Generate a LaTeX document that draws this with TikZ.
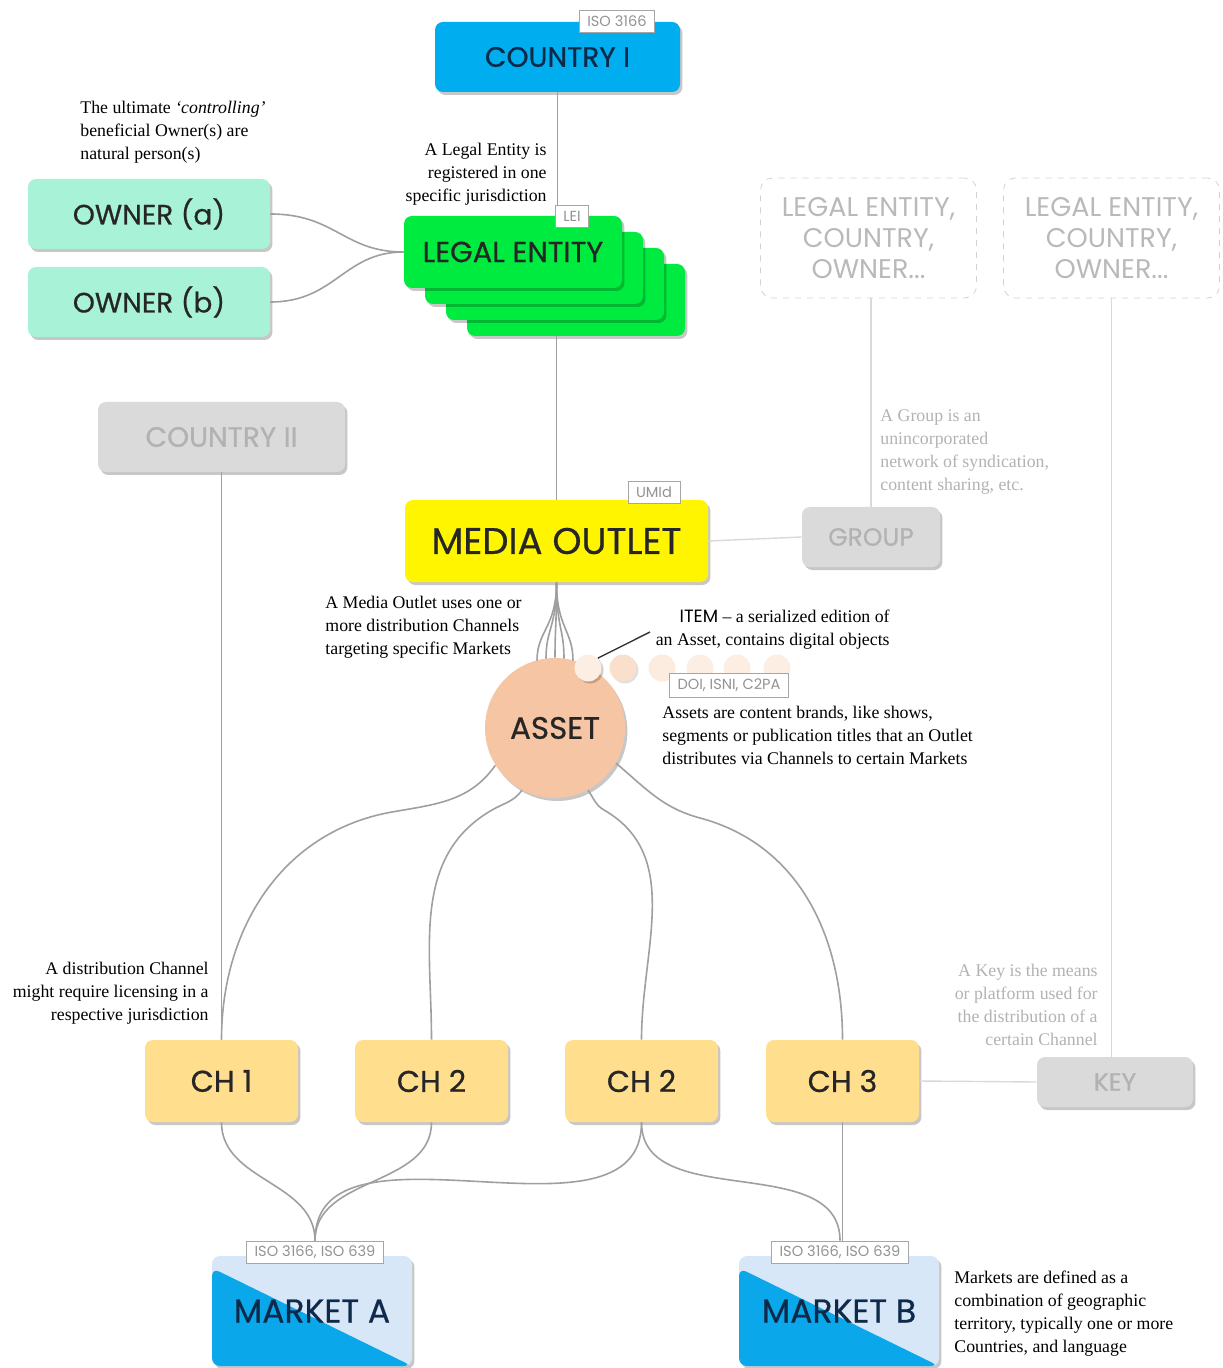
\documentclass[tikz,border=0pt]{standalone}
\usepackage{fontspec}
\setmainfont{Liberation Serif}
\newfontfamily\boxfont{Poppins}[FakeBold=0.6]
\newfontfamily\tagfont{Poppins}
\usetikzlibrary{positioning,calc,shadows}
\definecolor{ctryblue}{HTML}{00ADEF}
\definecolor{navy}{HTML}{0E2A4A}
\definecolor{mint}{HTML}{A8F3D8}
\definecolor{legalgreen}{HTML}{00EB40}
\definecolor{outletyellow}{HTML}{FFF500}
\definecolor{peach}{HTML}{F6C5A3}
\definecolor{chanyellow}{HTML}{FFDF8E}
\definecolor{boxgray}{HTML}{DADADA}
\definecolor{mktlight}{HTML}{D8E7F7}
\definecolor{mktblue}{HTML}{0AA8EA}

\begin{document}
\begin{tikzpicture}[x=0.5pt,y=0.5pt,
  box/.style={rounded corners=4pt,inner sep=0pt,align=center,text=black!85,
    font={\boxfont\fontsize{14}{16}\selectfont},
    drop shadow={shadow xshift=1.2pt,shadow yshift=-1.5pt,fill=black,opacity=.22}},
  ghost/.style={box,fill=boxgray,text=gray!60},
  dashbox/.style={rounded corners=6pt,draw=gray!35,dashed,text=gray!55,align=center,
    minimum width=108pt,minimum height=60pt,font={\tagfont\fontsize{13.5}{15.5}\selectfont}},
  chan/.style={box,fill=chanyellow,minimum width=76.5pt,minimum height=41pt,
    font={\boxfont\fontsize{15}{18}\selectfont}},
  market/.style={box,fill=mktlight,text=navy,minimum width=100pt,minimum height=55pt,
    font={\boxfont\fontsize{16.5}{18}\selectfont},
    path picture={\fill[mktblue] ([yshift=-6pt]path picture bounding box.north west)
      -- (path picture bounding box.south east) -- (path picture bounding box.south west) -- cycle;}},
  tag/.style={draw=gray!70,fill=white,text=gray!85,inner xsep=4pt,inner ysep=0pt,
    minimum height=11pt,font={\tagfont\fontsize{7.3}{8}\selectfont}},
  itemdot/.style={circle,inner sep=0pt,minimum size=13.5pt},
  note/.style={inner sep=0pt,font=\fontsize{8.9}{11.5}\selectfont},
  faded/.style={note,text=gray!60},
  link/.style={draw=gray!75,line width=.8pt},
  faint/.style={draw=gray!30,line width=.7pt}]
  \useasboundingbox (0,0) rectangle (1222,-1368);

  % top: country, owners, legal entity
  \node[box,fill=ctryblue,text=navy,minimum width=122.5pt,minimum height=35pt] (country) at (557.5,-57) {COUNTRY I};
  \node[box,fill=mint,minimum width=121pt,minimum height=35pt] (owna) at (149,-214) {OWNER (a)};
  \node[box,fill=mint,minimum width=121pt,minimum height=35pt] (ownb) at (149,-302) {OWNER (b)};
  \node[box,fill=legalgreen,minimum width=109pt,minimum height=36pt] (legal3) at (576,-300) {};
  \node[box,fill=legalgreen,minimum width=109pt,minimum height=36pt] (legal2) at (555,-284) {};
  \node[box,fill=legalgreen,minimum width=109pt,minimum height=36pt] (legal1) at (534,-268) {};
  \node[box,fill=legalgreen,minimum width=109pt,minimum height=36pt,
    font={\boxfont\fontsize{14.5}{16}\selectfont}] (legal) at (513,-252) {LEGAL ENTITY};
  \node[note,anchor=north west,align=left] (ownnote) at (80,-101)
    {The ultimate \textit{‘controlling’}\\beneficial Owner(s) are\\natural person(s)};
  \node[note,anchor=north east,align=right] (legalnote) at (547,-143)
    {A Legal Entity is\\registered in one\\specific jurisdiction};
  \draw[link] (country.south) -- (country.south |- legal.north);
  \draw[link] (owna.east) .. controls +(65,0) and +(-60,0) .. (legal.west);
  \draw[link] (ownb.east) .. controls +(65,0) and +(-60,0) .. (legal.west);
  \node[tag] (isoc) at (617,-21) {ISO 3166};
  \node[tag] (lei) at (572,-216) {LEI};

  % greyed out context
  \node[dashbox] (other1) at (868.5,-238) {LEGAL ENTITY,\\COUNTRY,\\OWNER...};
  \node[dashbox] (other2) at (1111.5,-238) {LEGAL ENTITY,\\COUNTRY,\\OWNER...};
  \node[ghost,minimum width=123.5pt,minimum height=35pt] (country2) at (221.5,-437) {COUNTRY II};
  \node[ghost,minimum width=69pt,minimum height=30pt,font={\boxfont\fontsize{12.5}{15}\selectfont}] (group) at (871,-537) {GROUP};
  \node[ghost,minimum width=78pt,minimum height=25pt,font={\boxfont\fontsize{12.5}{15}\selectfont}] (key) at (1115,-1082) {KEY};
  \node[faded,anchor=north west,align=left] (groupnote) at (880,-409)
    {A Group is an\\unincorporated\\network of syndication,\\content sharing, etc.};
  \node[faded,anchor=north east,align=right] (keynote) at (1098,-964)
    {A Key is the means\\or platform used for\\the distribution of a\\certain Channel};
  \draw[faint] (other1.south -| group.north) -- (group.north);
  \draw[faint] (other2.south) -- (other2.south |- key.north);

  % media outlet and asset
  \node[box,fill=outletyellow,minimum width=151.5pt,minimum height=41pt,
    font={\boxfont\fontsize{18.5}{20}\selectfont}] (media) at (556.5,-541) {MEDIA OUTLET};
  \node[tag] (umid) at (654,-492) {UMId};
  \draw[link] (legal3.south -| media.north) -- (media.north);
  \draw[faint] (media.east) -- (group.west);
  \node[box,circle,fill=peach,minimum size=70pt,font={\boxfont\fontsize{15.5}{18}\selectfont}] (asset) at (555,-728) {ASSET};
  \draw[link] (media.south) .. controls +(0,-45) and +(0,30) .. ($(asset.north)+(-18,-3)$);
  \draw[link] (media.south) .. controls +(0,-45) and +(0,30) .. ($(asset.north)+(-9,-1)$);
  \draw[link] (media.south) .. controls +(0,-45) and +(0,30) .. (asset.north);
  \draw[link] (media.south) .. controls +(0,-45) and +(0,30) .. ($(asset.north)+(9,-1)$);
  \draw[link] (media.south) .. controls +(0,-45) and +(0,30) .. ($(asset.north)+(18,-3)$);
  \node[itemdot,fill=peach!30] (item6) at (777,-668) {};
  \node[itemdot,fill=peach!30] (item5) at (737,-668) {};
  \node[itemdot,fill=peach!30] (item4) at (700,-668) {};
  \node[itemdot,fill=peach!35] (item3) at (662,-668) {};
  \node[itemdot,fill=peach!55,drop shadow={shadow xshift=1pt,shadow yshift=-1pt,fill=black,opacity=.12}] (item2) at (623,-668) {};
  \node[itemdot,fill=peach!30,drop shadow={shadow xshift=1pt,shadow yshift=-1pt,fill=black,opacity=.2}] (item1) at (588,-668) {};
  \coordinate (itemtip) at (650,-632);
  \draw[black!80,line width=.7pt] (item1.north east) -- (itemtip);
  \node[note,anchor=north east,align=right] (itemnote) at (890,-610)
    {{\tagfont ITEM} – a serialized edition of\\an Asset, contains digital objects};
  \node[tag,minimum height=12pt] (doi) at (729,-685) {DOI, ISNI, C2PA};
  \node[note,anchor=north west,align=left] (assetnote) at (662,-706)
    {Assets are content brands, like shows,\\segments or publication titles that an Outlet\\distributes via Channels to certain Markets};
  \node[note,anchor=north west,align=left] (medianote) at (325,-596)
    {A Media Outlet uses one or\\more distribution Channels\\targeting specific Markets};

  % channels
  \node[chan] (ch1) at (221.5,-1081) {CH 1};
  \node[chan] (ch2) at (431.5,-1081) {CH 2};
  \node[chan] (ch2b) at (641.5,-1081) {CH 2};
  \node[chan] (ch3) at (842.5,-1081) {CH 3};
  \node[note,anchor=north east,align=right] (channote) at (209,-962)
    {A distribution Channel\\might require licensing in a\\respective jurisdiction};
  \draw[link] (country2.south) -- (ch1.north);
  \draw[faint] (ch3.east) -- (key.west);
  \draw[link] (asset.212) to[out=235,in=10] (392,-812) to[out=190,in=90] (ch1.north);
  \draw[link] (asset.242) to[out=235,in=30] (492,-810) to[out=210,in=90] (ch2.north);
  \draw[link] (asset.298) to[out=-55,in=150] (604,-810) to[out=-30,in=90] (ch2b.north);
  \draw[link] (asset.330) to[out=-40,in=165] (700,-818) to[out=-15,in=90] (ch3.north);

  % markets
  \node[market] (mkta) at (312,-1311) {MARKET A};
  \node[market] (mktb) at (839,-1311) {MARKET B};
  \node[tag] (isoa) at (315,-1252) {ISO 3166, ISO 639};
  \node[tag] (isob) at (840,-1252) {ISO 3166, ISO 639};
  \node[note,anchor=north west,align=left] (mktnote) at (954,-1271)
    {Markets are defined as a\\combination of geographic\\territory, typically one or more\\Countries, and language};
  \draw[link] (ch1.south) to[out=-90,in=90] (isoa.north);
  \draw[link] (ch2.south) to[out=-90,in=90] (isoa.north);
  \draw[link] (ch2b.south) to[out=-90,in=90] (isoa.north);
  \draw[link] (ch2b.south) to[out=-90,in=90] (isob.north);
  \draw[link] (ch3.south) -- (ch3.south |- isob.north);
\end{tikzpicture}
\end{document}
